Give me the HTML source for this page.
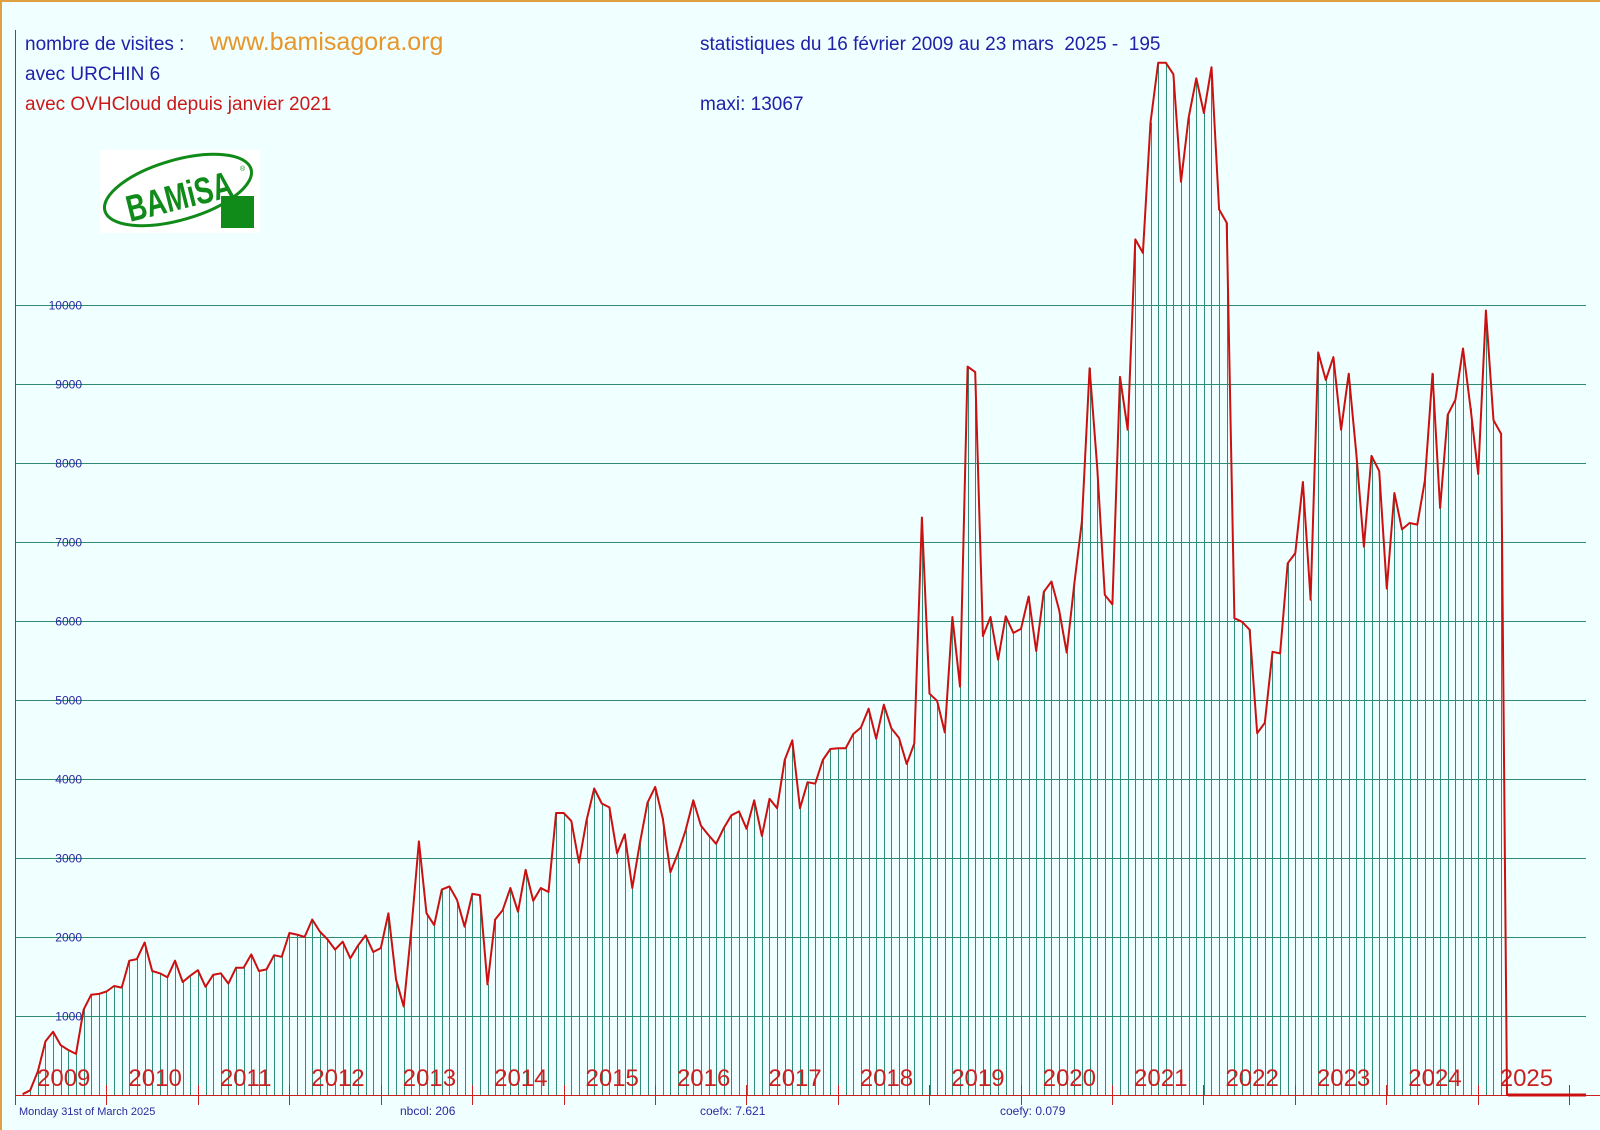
<!DOCTYPE html>
<html><head><meta charset="utf-8">
<style>
html,body{margin:0;padding:0;background:#f0ffff;}
body{width:1600px;height:1130px;overflow:hidden;position:relative;font-family:"Liberation Sans",sans-serif;}
svg{position:absolute;left:0;top:0;}
</style></head>
<body>
<svg id="s" width="1600" height="1130" xmlns="http://www.w3.org/2000/svg">
<rect x="0" y="0" width="1600" height="1130" fill="#f0ffff"/>
<line x1="0" y1="1" x2="1600" y2="1" stroke="#e0a040" stroke-width="2"/>
<line x1="1" y1="0" x2="1" y2="1130" stroke="#e0a040" stroke-width="2"/>
<g id="grid"></g>
<g id="bars"></g>
<line x1="15.5" y1="30" x2="15.5" y2="1105" stroke="#cc2020" stroke-width="1"/>
<line x1="15" y1="1095.5" x2="1600" y2="1095.5" stroke="#cc2020" stroke-width="1"/>
<g id="ticks"></g>
<g id="ylab" font-family="Liberation Sans, sans-serif" font-size="12" fill="#2a2aa0" text-anchor="end"></g>
<g id="years" font-family="Liberation Sans, sans-serif" font-size="24" fill="#cc2020"></g>
<polyline id="line" fill="none" stroke="#cc1010" stroke-width="2" stroke-linejoin="round"/>
<line x1="1508" y1="1095" x2="1586" y2="1095" stroke="#cc1010" stroke-width="3"/>
<g font-family="Liberation Sans, sans-serif">
<text x="25" y="50" font-size="19" fill="#2020a8">nombre de visites :</text>
<text x="210" y="50" font-size="25" fill="#e8962a">www.bamisagora.org</text>
<text x="25" y="80" font-size="19" fill="#2020a8">avec URCHIN 6</text>
<text x="25" y="110" font-size="19" fill="#cc1818">avec OVHCloud depuis janvier 2021</text>
<text x="700" y="50" font-size="19" fill="#2020a8" xml:space="preserve">statistiques du 16 février 2009 au 23 mars  2025 -  195</text>
<text x="700" y="110" font-size="19" fill="#2020a8">maxi: 13067</text>
<text x="19" y="1115" font-size="11" fill="#2a2aa0">Monday 31st of March 2025</text>
<text x="400" y="1115" font-size="12" fill="#2a2aa0">nbcol: 206</text>
<text x="700" y="1115" font-size="12" fill="#2a2aa0">coefx: 7.621</text>
<text x="1000" y="1115" font-size="12" fill="#2a2aa0">coefy: 0.079</text>
</g>
<g>
<rect x="100" y="150" width="160" height="83" fill="#ffffff"/>
<ellipse cx="178" cy="190" rx="76" ry="30" transform="rotate(-16 178 190)" fill="none" stroke="#108a18" stroke-width="3"/>
<rect x="221" y="196" width="33" height="32" fill="#108a18"/>
<text x="0" y="0" font-family="Liberation Sans, sans-serif" font-weight="bold" font-size="34" fill="#108a18" transform="translate(130 222) rotate(-14) scale(0.8 1.1)" textLength="135" lengthAdjust="spacingAndGlyphs">BAMiSA</text>
<text x="240" y="171" font-size="7" fill="#108a18" font-family="Liberation Sans, sans-serif">®</text>
</g>
</svg>
<script>
var v=[0,10,60,300,680,800,630,570,520,1080,1270,1280,1310,1380,1360,1700,1720,1930,1570,1540,1490,1700,1430,1510,1580,1370,1520,1540,1410,1610,1610,1780,1570,1590,1770,1750,2050,2030,2000,2220,2070,1970,1840,1940,1730,1890,2020,1810,1860,2300,1460,1120,2090,3210,2300,2150,2600,2640,2470,2130,2545,2530,1400,2220,2340,2620,2320,2850,2460,2620,2570,3570,3570,3470,2940,3480,3880,3690,3640,3060,3300,2620,3190,3700,3900,3500,2820,3060,3350,3730,3410,3290,3180,3380,3540,3590,3370,3730,3280,3750,3630,4240,4490,3630,3960,3940,4240,4380,4390,4390,4570,4650,4890,4510,4940,4640,4520,4190,4450,7310,5080,4990,4590,6050,5170,9220,9150,5810,6050,5510,6060,5850,5900,6310,5620,6370,6500,6140,5600,6470,7260,9200,7950,6330,6210,9090,8420,10830,10660,12310,13067,13067,12920,11560,12370,12870,12430,13010,11210,11040,6035,5990,5890,4580,4710,5610,5590,6730,6860,7760,6270,9400,9050,9340,8420,9130,8120,6940,8090,7900,6410,7620,7160,7240,7220,7780,9130,7430,8610,8800,9450,8690,7860,9930,8540,8370];
var NS="http://www.w3.org/2000/svg";
function el(p,t,a){var e=document.createElementNS(NS,t);for(var k in a)e.setAttribute(k,a[k]);p.appendChild(e);return e;}
var cx=7.621,cy=0.079,B=1095;
var g=document.getElementById('grid'),b=document.getElementById('bars'),tk=document.getElementById('ticks'),yl=document.getElementById('ylab'),yr=document.getElementById('years');
for(var i=1;i<=10;i++){var y=Math.round(B-i*1000*cy)+0.5;el(g,'line',{x1:15,y1:y,x2:1586,y2:y,stroke:'#2e8b74','stroke-width':1});var t=el(yl,'text',{x:82,y:y+4});t.textContent=i*1000;}
var pts=[];
for(var m=1;m<v.length;m++){var x=15+cx*m,y=B-v[m]*cy;pts.push(x.toFixed(1)+','+y.toFixed(1));
 var xx=Math.round(x)+0.5;el(b,'line',{x1:xx,y1:B,x2:xx,y2:y,stroke:'#2e8b74','stroke-width':1});}
pts.push('1507,1095');pts.push('1586,1095');
document.getElementById('line').setAttribute('points',pts.join(' '));
for(var k=0;k<=17;k++){var x=Math.round(15+k*91.42)+0.5;el(tk,'line',{x1:x,y1:1085,x2:x,y2:1105,stroke:'#cc2020','stroke-width':1});
 if(k<17){var t=el(yr,'text',{x:15+k*91.42+22,y:1086});t.textContent=2009+k;}}
</script>
</body></html>
